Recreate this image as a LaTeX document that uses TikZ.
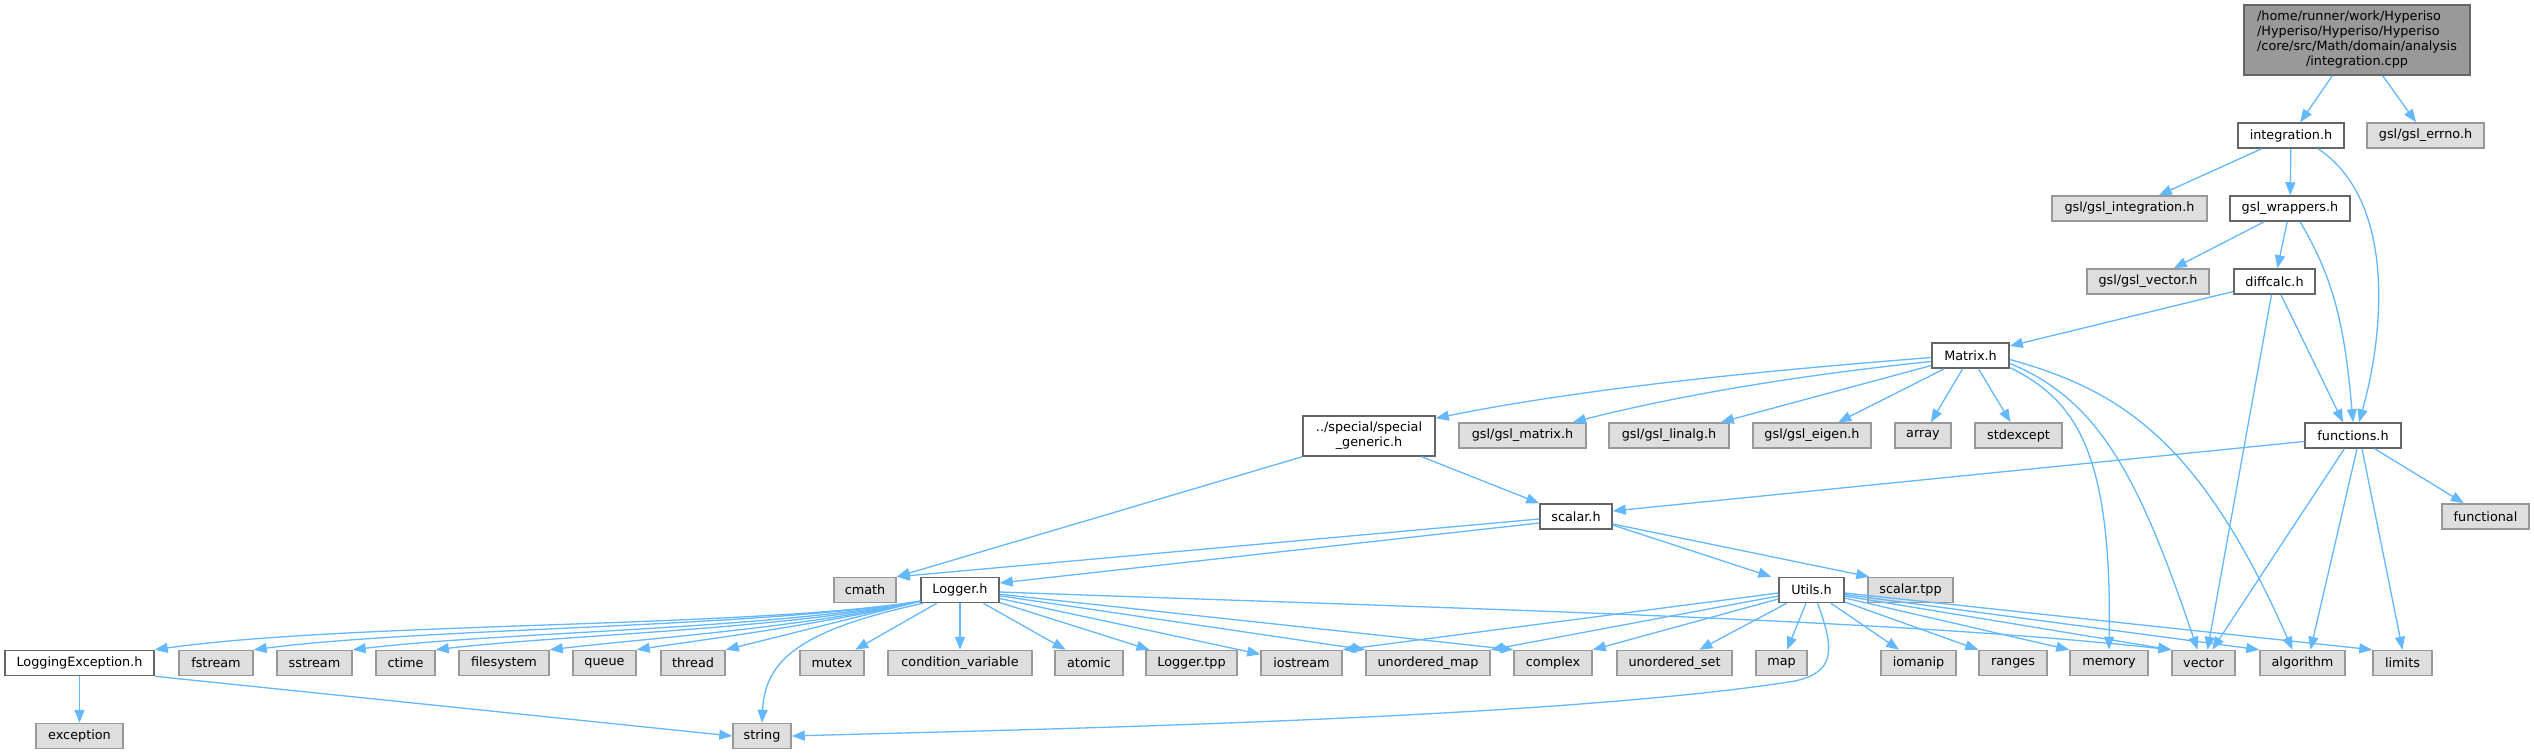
\documentclass[tikz,border=0pt]{standalone}
\usepackage{fontspec}
\setmainfont{DejaVu Sans}
\usetikzlibrary{arrows.meta}
\definecolor{edgec}{HTML}{63B8FF}
\definecolor{g40}{HTML}{666666}
\definecolor{g60}{HTML}{999999}
\definecolor{g87}{HTML}{DEDEDE}
\begin{document}
\begin{tikzpicture}[x=1pt,y=-1pt,
  base/.style={rectangle, inner sep=0pt, line width=1.5pt, font=\fontsize{12.8}{15}\selectfont, align=center, minimum height=25pt},
  wb/.style={base, draw=g40, fill=white},
  gb/.style={base, draw=g60, fill=g87},
  rb/.style={base, draw=g40, fill=g60},
  wd/.style={minimum width=#1},
  edg/.style={draw=edgec, line width=1.3pt, -{Triangle[length=13pt,width=10pt]}}]
\fill[white] (0,0) rectangle (2534,755);
\useasboundingbox (0,0) rectangle (2534,755);
% nodes
\node[rb,wd=226pt,minimum height=70pt] (root) at (2357,40) {\begin{tabular}{@{}l@{}}/home/runner/work/Hyperiso\\/Hyperiso/Hyperiso/Hyperiso\\/core/src/Math/domain/analysis\\\multicolumn{1}{@{}c@{}}{/integration.cpp}\end{tabular}};
\node[wb,wd=106pt] (inth) at (2291,135.5) {integration.h};
\node[gb,wd=117pt] (errno) at (2425.5,135.5) {gsl/gsl\_errno.h};
\node[gb,wd=155pt] (gint) at (2129.5,208.5) {gsl/gsl\_integration.h};
\node[wb,wd=120pt] (wrap) at (2290,208.5) {gsl\_wrappers.h};
\node[gb,wd=122pt] (gvec) at (2148,281.5) {gsl/gsl\_vector.h};
\node[wb,wd=81pt] (diff) at (2274.5,281.5) {diffcalc.h};
\node[wb,wd=77pt] (matrix) at (1970.5,355.5) {Matrix.h};
\node[wb,wd=132pt,minimum height=40pt] (special) at (1369,436) {../special/special\\\_generic.h};
\node[gb,wd=127pt] (gmat) at (1522.5,435.5) {gsl/gsl\_matrix.h};
\node[gb,wd=120pt] (glin) at (1669,435.5) {gsl/gsl\_linalg.h};
\node[gb,wd=118pt] (geig) at (1812,435.5) {gsl/gsl\_eigen.h};
\node[gb,wd=56pt] (array) at (1923,435.5) {array};
\node[gb,wd=87pt] (stdex) at (2018.5,435.5) {stdexcept};
\node[wb,wd=96pt] (func) at (2353,435.5) {functions.h};
\node[wb,wd=72pt] (scalar) at (1576,516.5) {scalar.h};
\node[gb,wd=87pt] (functional) at (2485.5,516.5) {functional};
\node[gb,wd=62pt] (cmath) at (865,590) {cmath};
\node[wb,wd=78pt] (logger) at (960,590) {Logger.h};
\node[wb,wd=65pt] (utils) at (1811.5,590) {Utils.h};
\node[gb,wd=85pt] (stpp) at (1910.5,590) {scalar.tpp};
\node[wb,wd=149pt] (logexc) at (79.5,663) {LoggingException.h};
\node[gb,wd=74pt] (fstream) at (216,663) {fstream};
\node[gb,wd=75pt] (sstream) at (314.5,663) {sstream};
\node[gb,wd=59pt] (ctime) at (405.5,663) {ctime};
\node[gb,wd=90pt] (filesys) at (504,663) {filesystem};
\node[gb,wd=63pt] (queue) at (604.5,663) {queue};
\node[gb,wd=64pt] (thread) at (693,663) {thread};
\node[gb,wd=64pt] (mutex) at (832,663) {mutex};
\node[gb,wd=144pt] (condvar) at (960,663) {condition\_variable};
\node[gb,wd=68pt] (atomic) at (1089,663) {atomic};
\node[gb,wd=91pt] (ltpp) at (1191.5,663) {Logger.tpp};
\node[gb,wd=81pt] (iostream) at (1301.5,663) {iostream};
\node[gb,wd=124pt] (umap) at (1428,663) {unordered\_map};
\node[gb,wd=78pt] (complex) at (1553,663) {complex};
\node[gb,wd=115pt] (uset) at (1674.5,663) {unordered\_set};
\node[gb,wd=51pt] (map) at (1781.5,663) {map};
\node[gb,wd=75pt] (iomanip) at (1918.5,663) {iomanip};
\node[gb,wd=68pt] (ranges) at (2013,663) {ranges};
\node[gb,wd=78pt] (memory) at (2109,663) {memory};
\node[gb,wd=63pt] (vector) at (2203.5,663) {vector};
\node[gb,wd=85pt] (algo) at (2302.5,663) {algorithm};
\node[gb,wd=59pt] (limits) at (2402.5,663) {limits};
\node[gb,wd=87pt] (exception) at (79.5,736) {exception};
\node[gb,wd=58pt] (string) at (762,736) {string};
% edges
\draw[edg] (root) -- (inth);
\draw[edg] (root) -- (errno);
\draw[edg] (inth) -- (gint);
\draw[edg] (inth) -- (wrap);
\draw[edg] ([xshift=27pt]inth.south) .. controls (2395,200) and (2385,330) .. ([xshift=6pt]func.north);
\draw[edg] (wrap) -- (gvec);
\draw[edg] (wrap) -- (diff);
\draw[edg] ([xshift=10pt]wrap.south) .. controls (2335,280) and (2345,330) .. (func.north);
\draw[edg] (diff) -- (matrix);
\draw[edg] ([xshift=-3pt]diff.south) -- ([xshift=4pt]vector.north);
\draw[edg] (diff) -- ([xshift=-10pt]func.north);
% Matrix
\draw[edg] ([yshift=-2pt]matrix.west) .. controls (1800,368) and (1600,385) .. ([yshift=-3pt]special.north east);
\draw[edg] ([yshift=-6pt]matrix.west) .. controls (1800,375) and (1680,395) .. ([xshift=-14pt]gmat.north east);
\draw[edg] ([yshift=-10pt]matrix.west) -- ([xshift=-9pt]glin.north east);
\draw[edg] (matrix) -- (geig);
\draw[edg] (matrix) -- (array);
\draw[edg] (matrix) -- (stdex);
\draw[edg] ([yshift=-12pt]matrix.east) .. controls (2075,400) and (2112,450) .. (memory.north);
\draw[edg] ([yshift=-8pt]matrix.east) .. controls (2100,400) and (2140,480) .. ([xshift=-6pt]vector.north);
\draw[edg] ([yshift=-4pt]matrix.east) .. controls (2120,390) and (2200,440) .. ([xshift=-10pt]algo.north);
% special
\draw[edg] (special.south west) -- (cmath.north east);
\draw[edg] ([xshift=-14pt]special.south east) -- (scalar.north west);
% functions
\draw[edg] ([yshift=-6pt]func.west) -- ([yshift=5.5pt]scalar.east);
\draw[edg] (func) -- (functional);
\draw[edg] (func) -- (vector);
\draw[edg] ([xshift=4pt]func.south) -- ([xshift=8pt]algo.north);
\draw[edg] ([xshift=9pt]func.south) -- (limits.north);
% scalar
\draw[edg] ([yshift=-2.5pt]scalar.west) -- (cmath.north east);
\draw[edg] ([yshift=-6.5pt]scalar.west) -- ([yshift=7pt]logger.east);
\draw[edg] ([yshift=-8.5pt]scalar.east) -- ([xshift=-7pt]utils.north west);
\draw[edg] ([yshift=-7.5pt]scalar.east) -- ([xshift=2pt]stpp.north west);
% Logger
\draw[edg] ([yshift=2pt]logger.south west) .. controls (750,628) and (350,622) .. (logexc.north east);
\draw[edg] ([yshift=2pt]logger.south west) .. controls (750,628) and (420,628) .. (fstream.north east);
\draw[edg] ([yshift=2pt]logger.south west) .. controls (760,630) and (500,632) .. (sstream.north east);
\draw[edg] ([yshift=2pt]logger.south west) .. controls (780,630) and (560,635) .. (ctime.north east);
\draw[edg] ([yshift=2pt]logger.south west) .. controls (800,628) and (650,638) .. (filesys.north east);
\draw[edg] ([yshift=2pt]logger.south west) .. controls (820,625) and (700,640) .. (queue.north east);
\draw[edg] ([yshift=2pt]logger.south west) -- (thread.north east);
\draw[edg] ([xshift=3pt]logger.south west) .. controls (800,630) and (765,660) .. (string.north);
\draw[edg] (logger) -- (mutex);
\draw[edg] (logger) -- (condvar);
\draw[edg] (logger) -- (atomic);
\draw[edg] (logger) -- (ltpp);
\draw[edg] (logger) -- (iostream);
\draw[edg] (logger) -- (umap.north west);
\draw[edg] (logger) -- (complex.north west);
\draw[edg] ([yshift=-2pt]logger.east) .. controls (1500,610) and (1900,620) .. (vector.north west);
% Utils
\coordinate (ubend) at (1795,681);
\draw[edg] ([yshift=-3pt]utils.west) -- (iostream.north east);
\draw[edg] ([yshift=-6pt]utils.west) -- (umap.north east);
\draw[edg] ([yshift=-9pt]utils.west) -- (complex.north east);
\draw[edg] (utils) -- (uset);
\draw[edg] (utils) -- (map);
\draw[edg] ([xshift=6pt]utils.south) .. controls (1835,650) and (1835,672) .. (ubend) .. controls (1550,720) and (1000,730) .. (string.east);
\draw[edg] (utils) -- (iomanip);
\draw[edg] (utils) -- (ranges.north west);
\draw[edg] ([yshift=-8pt]utils.east) -- (memory.north west);
\draw[edg] ([yshift=-6pt]utils.east) -- (vector.north west);
\draw[edg] ([yshift=-4.5pt]utils.east) -- (algo.north west);
\draw[edg] ([yshift=-3pt]utils.east) -- (limits.north west);
% LoggingException
\draw[edg] (logexc) -- (exception);
\draw[edg] (logexc.south east) -- (string.west);
\end{tikzpicture}
\end{document}
